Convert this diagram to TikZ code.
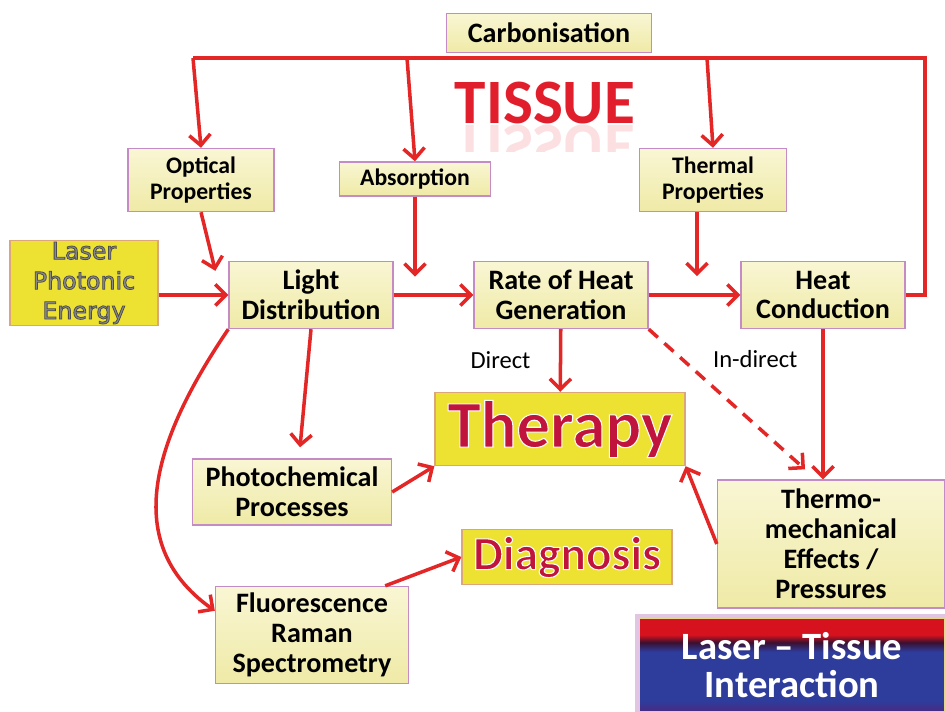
\documentclass[tikz,border=0pt]{standalone}
\usepackage{fontspec}
\setmainfont{Carlito}
\newfontfamily\laserfont{DejaVu Sans}
\usetikzlibrary{arrows.meta}

\definecolor{boxtop}{HTML}{F9F6D4}
\definecolor{boxbot}{HTML}{EFEAA6}
\definecolor{boxline}{HTML}{C58BC4}
\definecolor{gold}{HTML}{EDE232}
\definecolor{goldline}{HTML}{DBA67A}
\definecolor{linkred}{HTML}{E32626}
\definecolor{tissuered}{HTML}{E01E2C}
\definecolor{crimson}{HTML}{C0143C}
\definecolor{laserfg}{HTML}{8A8A8A}
\definecolor{ltred}{HTML}{D5121E}
\definecolor{ltdark}{HTML}{3A1030}
\definecolor{ltblue}{HTML}{2E3C9C}
\definecolor{ltpurple}{HTML}{4A2A80}
\definecolor{ltline}{HTML}{E3D58C}

\pgfdeclareverticalshading{ltshade}{100bp}{color(0bp)=(ltpurple); color(25bp)=(ltpurple);
  color(31bp)=(ltblue); color(57bp)=(ltblue); color(62bp)=(ltdark); color(66bp)=(ltred); color(100bp)=(ltred)}

% crimson title text with a thin white outline
\newcommand\outlinetxt[1]{\textcolor{crimson}{\special{pdf:literal direct 1 1 1 RG 0.6 w 2 Tr}#1\special{pdf:literal direct 0 Tr}}}
% grey text with a darker outline
\newcommand\greytxt[1]{\textcolor{laserfg}{\special{pdf:literal direct 0.3 0.3 0.3 RG 0.45 w 2 Tr}#1\special{pdf:literal direct 0 Tr}}}

\begin{document}
\begin{tikzpicture}[x=0.02cm, y=-0.02cm,
  box/.style={draw=boxline, line width=0.8pt, top color=boxtop, bottom color=boxbot, align=center,
    inner sep=1pt, font=\bfseries\fontsize{16}{17}\selectfont},
  smallbox/.style={box, font=\bfseries\fontsize{13.5}{14.5}\selectfont},
  goldbox/.style={draw=goldline, line width=0.8pt, fill=gold, align=center, inner sep=1pt},
  link/.style={draw=linkred, line width=2pt},
  arr/.style={link, -{Straight Barb[length=6pt,width=12pt]}},
  edgelabel/.style={font=\fontsize{14}{15}\selectfont}]

\useasboundingbox (0,0) rectangle (945,712);

% top row
\node[box, minimum width=4.1cm, minimum height=0.78cm] (carb) at (549,33) {Carbonisation};
\node[font=\bfseries\fontsize{36}{36}\selectfont, text=tissuered, anchor=base] (tissue) at (545,124) {TISSUE};
\begin{scope}
  \clip (440,125) rectangle (650,152);
  \node[font=\bfseries\fontsize{36}{36}\selectfont, text=tissuered, anchor=base, opacity=0.14,
    yscale=-1, transform shape] (tissuerefl) at (545,126) {TISSUE};
\end{scope}

\node[smallbox, minimum width=2.92cm, minimum height=1.26cm] (opt) at (201,180) {Optical\\Properties};
\node[smallbox, minimum width=3.02cm, minimum height=0.68cm] (abs) at (415,179) {Absorption};
\node[smallbox, minimum width=2.94cm, minimum height=1.26cm] (therm) at (713,180) {Thermal\\Properties};

% middle row
\node[goldbox, minimum width=2.96cm, minimum height=1.62cm,
  font=\laserfont\fontsize{13.5}{17}\selectfont] (laser) at (84,283)
  {\greytxt{Laser}\\\greytxt{Photonic}\\\greytxt{Energy}};
\node[box, minimum width=3.28cm, minimum height=1.34cm] (light) at (311,295) {Light\\Distribution};
\node[box, minimum width=3.48cm, minimum height=1.34cm] (rate) at (561,295) {Rate of Heat\\Generation};
\node[box, minimum width=3.28cm, minimum height=1.34cm] (heat) at (823,295) {Heat\\Conduction};

% outcomes
\node[goldbox, minimum width=5cm, minimum height=1.46cm, font=\bfseries\fontsize{38}{38}\selectfont]
  (therapy) at (560,429) {\outlinetxt{Therapy}};
\node[box, minimum width=3.98cm, minimum height=1.32cm] (photo) at (292,492) {Photochemical\\Processes};
\node[goldbox, minimum width=4.2cm, minimum height=1.1cm, font=\bfseries\fontsize{27}{27}\selectfont]
  (diag) at (567,557) {\outlinetxt{Diagnosis}};
\node[box, minimum width=3.86cm, minimum height=1.94cm] (fluor) at (312,635) {Fluorescence\\Raman\\Spectrometry};
\node[box, minimum width=4.54cm, minimum height=2.56cm] (thermo) at (831,544) {Thermo-\\mechanical\\Effects /\\Pressures};

\node[shading=ltshade, draw=ltline, line width=1pt, preaction={draw=violet!45, line width=5pt, opacity=0.5},
  minimum width=6.1cm, minimum height=1.88cm, text=white, align=center,
  font=\bfseries\fontsize{22}{22}\selectfont] (lti) at (792,665) {Laser -- Tissue\\Interaction};

% carbonisation loop
\coordinate (topleft) at (193,58);
\coordinate (toabs) at (407,58);
\coordinate (totherm) at (707,58);
\coordinate (topright) at (925,58);
\draw[link] (heat.east) -| (topright) -- (topleft);
\draw[arr] (topleft) -- (opt.north);
\draw[arr] (toabs) -- (abs.north);
\draw[arr] (totherm) -- (therm.north);

% property inputs
\draw[arr] (opt.south) -- ([shift={(-13,10)}]light.north west);
\draw[arr] (abs.south) -- ++(0,80);
\draw[arr] ([xshift=-0.32cm]therm.south) -- ++(0,64);

% main chain
\draw[arr] (laser.east |- light.west) -- (light.west);
\draw[arr] (light) -- (rate);
\draw[arr] (rate) -- (heat);
\draw[arr] (rate) -- node[edgelabel, left=0.45cm] {Direct} (therapy);
\draw[arr] (heat.south) -- node[edgelabel, pos=0.2, left=0.36cm] {In-direct} (heat.south |- thermo.north);
\draw[arr, dash pattern=on 7pt off 5pt] (rate.south east) -- ([shift={(-26,-10)}]thermo.north);

% light paths
\draw[arr] (light.south) -- ([shift={(8,-11)}]photo.north);
\draw[arr] (photo.east) -- (therapy.south west);
\draw[arr] (thermo.west) -- (therapy.south east);
\draw[arr] ([xshift=-0.48cm]fluor.north east) -- (diag.west);
\draw[arr] (light.south west) .. controls (160,430) and (115,540) .. (fluor.166);
\end{tikzpicture}
\end{document}
